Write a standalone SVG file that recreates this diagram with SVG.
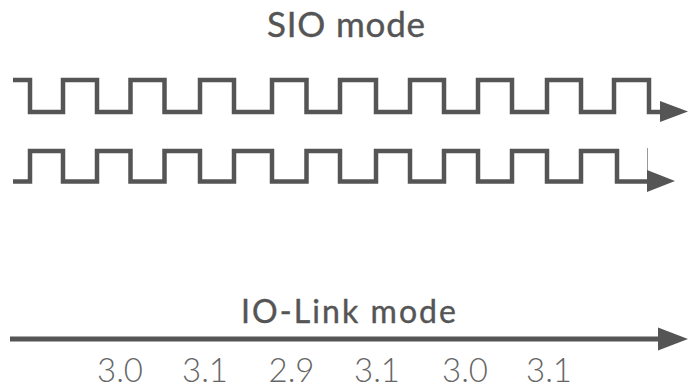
<svg xmlns="http://www.w3.org/2000/svg" width="690" height="389" viewBox="0 0 690 389">
<style>
.wave{fill:none;stroke:#555;stroke-width:4.5;stroke-linejoin:miter;stroke-linecap:butt}
.head{fill:#555}
.title{font-family:Lato,"Liberation Sans",sans-serif;font-weight:400;fill:#555;stroke:#555;stroke-width:0.4;text-anchor:middle}
.num{font-family:Lato,"Liberation Sans",sans-serif;font-weight:300;fill:#666;text-anchor:middle;font-size:33px}
</style>
<rect width="690" height="389" fill="#fff"/>
<g id="sio-label"><text class="title" x="346" y="37" font-size="35" textLength="158" lengthAdjust="spacing">SIO mode</text></g>
<g id="connectors">
<g id="wave-top">
<path class="wave" d="M13,80 H30 V112 H63 V80 H97 V112 H130.5 V80 H164.5 V112 H200 V80 H234 V112 H272 V80 H306.5 V112 H340 V80 H376 V112 H410 V80 H444 V112 H478 V80 H512 V112 H547 V80 H581 V112 H614 V80 H649 V112 H662"/>
<polygon class="head" points="660,101 688,111.5 660,122"/>
</g>
<g id="wave-bottom">
<path class="wave" d="M13,181.5 H30 V151 H63 V181.5 H97 V151 H130.5 V181.5 H164.5 V151 H200 V181.5 H234 V151 H272 V181.5 H306.5 V151 H340 V181.5 H376 V151 H410 V181.5 H444 V151 H478 V181.5 H512 V151 H547 V181.5 H581 V151 H617 V181.5 H649"/>
<line x1="647.5" y1="148" x2="647.5" y2="180" stroke="#999" stroke-width="1"/>
<polygon class="head" points="647,170 675,181 647,192"/>
</g>
<g id="io-link-arrow">
<line x1="10" y1="339" x2="660" y2="339" stroke="#555" stroke-width="5"/>
<polygon class="head" points="658,327.5 688,339 658,350.5"/>
</g>
</g>
<g id="io-label"><text class="title" x="348.5" y="323" font-size="32" textLength="215" lengthAdjust="spacing">IO-Link mode</text></g>
<g id="values">
<text class="num" x="120" y="382">3.0</text>
<text class="num" x="205" y="382">3.1</text>
<text class="num" x="291.5" y="382">2.9</text>
<text class="num" x="377" y="382">3.1</text>
<text class="num" x="465" y="382">3.0</text>
<text class="num" x="549" y="382">3.1</text>
</g>
</svg>
